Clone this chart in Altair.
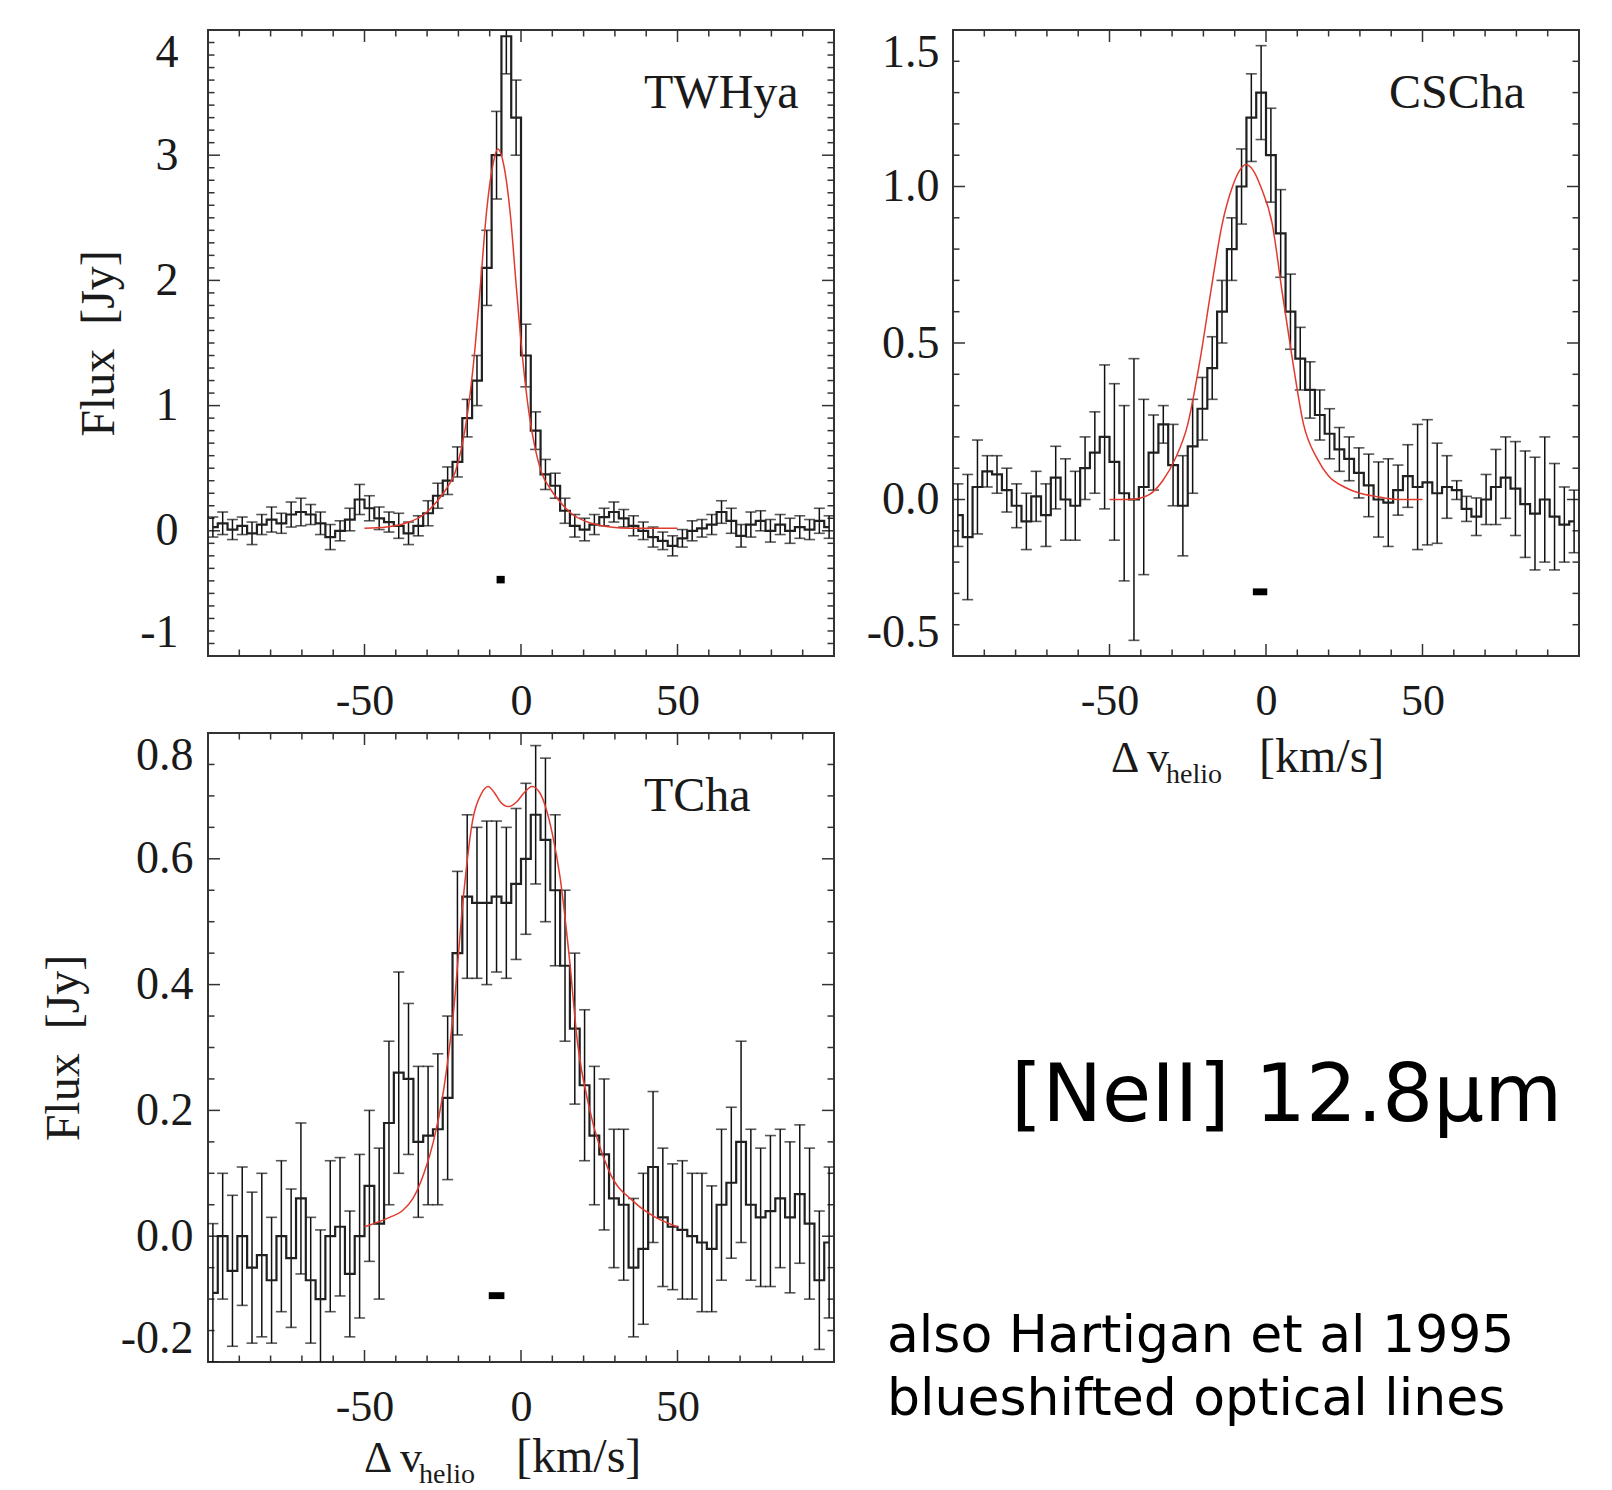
import altair as alt
import pandas as pd

W = 626
H = 626
H3 = 629
BIN = 3.125
VEL = [round(-100 + BIN * (i + 0.5), 4) for i in range(64)]

# ---------------- TW Hya ----------------
TW_FLUX = [0.03, 0.06, 0.01, 0.04, -0.02, 0.05, 0.09, 0.06, 0.13, 0.15,
           0.13, 0.06, -0.05, 0.0, 0.09, 0.25, 0.18, 0.10, 0.07, 0.04,
           -0.02, 0.04, 0.14, 0.28, 0.40, 0.55, 0.90, 1.20, 2.10, 3.00,
           3.95, 3.30, 1.40, 0.80, 0.45, 0.36, 0.16, 0.04, 0.01, 0.05,
           0.11, 0.15, 0.10, 0.04, 0.0, -0.05, -0.08, -0.12, -0.06, 0.0,
           0.02, 0.05, 0.15, 0.08, -0.04, 0.05, 0.08, 0.0, 0.05, 0.0,
           0.03, 0.01, 0.08, 0.03]
TW_ERR = [0.08, 0.09, 0.08, 0.07, 0.09, 0.08, 0.10, 0.08, 0.10, 0.11,
          0.08, 0.09, 0.10, 0.08, 0.09, 0.12, 0.10, 0.09, 0.08, 0.10,
          0.09, 0.08, 0.10, 0.10, 0.11, 0.12, 0.15, 0.20, 0.30, 0.35,
          0.30, 0.30, 0.25, 0.15, 0.12, 0.10, 0.10, 0.09, 0.09, 0.08,
          0.07, 0.08, 0.07, 0.08, 0.07, 0.08, 0.07, 0.08, 0.07, 0.08,
          0.07, 0.08, 0.09, 0.10, 0.09, 0.10, 0.08, 0.09, 0.08, 0.10,
          0.09, 0.08, 0.10, 0.09]
TW_MODEL_V = [-50, -43, -37, -31, -27, -24, -21, -19, -17, -15, -13, -11, -9, -7.4,
              -5.5, -3.5, -1.5, 0.5, 2.5, 4.5, 6.5, 9.5, 12.5, 16.5, 22.5, 28.5, 35, 50]
TW_MODEL_F = [0.02, 0.03, 0.06, 0.13, 0.23, 0.33, 0.47, 0.66, 0.95, 1.38, 1.95, 2.55, 2.92, 3.05,
              2.92, 2.55, 1.95, 1.38, 0.95, 0.66, 0.47, 0.33, 0.23, 0.13, 0.06, 0.03, 0.02, 0.02]
TW_RES = {"x1": [-7.8], "x2": [-5.2], "y1": [-0.42], "y2": [-0.36]}

# ---------------- CS Cha ----------------
CS_FLUX = [-0.05, -0.12, 0.04, 0.09, 0.08, 0.03, -0.02, -0.07, 0.01, -0.05,
           0.07, 0.0, -0.02, 0.10, 0.15, 0.20, 0.12, 0.02, 0.0, 0.04,
           0.15, 0.24, 0.11, -0.02, 0.17, 0.29, 0.42, 0.60, 0.80, 1.00,
           1.22, 1.30, 1.10, 0.85, 0.60, 0.45, 0.35, 0.27, 0.21, 0.16,
           0.13, 0.085, 0.045, 0.0, -0.01, 0.03, 0.075, 0.04, 0.055, 0.02,
           0.04, 0.03, -0.03, -0.055, 0.0, 0.04, 0.07, 0.035, -0.015, -0.045,
           0.0, -0.055, -0.08, -0.07]
CS_ERR = [0.10, 0.20, 0.15, 0.05, 0.06, 0.07, 0.07, 0.09, 0.08, 0.10,
          0.10, 0.13, 0.11, 0.10, 0.13, 0.23, 0.25, 0.28, 0.45, 0.28,
          0.12, 0.06, 0.13, 0.16, 0.15, 0.10, 0.10, 0.10, 0.10, 0.12,
          0.14, 0.15, 0.15, 0.14, 0.12, 0.10, 0.09, 0.08, 0.08, 0.07,
          0.07, 0.08, 0.10, 0.12, 0.14, 0.08, 0.10, 0.20, 0.20, 0.16,
          0.10, 0.03, 0.04, 0.06, 0.08, 0.12, 0.13, 0.15, 0.17, 0.18,
          0.20, 0.17, 0.12, 0.10]
CS_MODEL_V = [-50, -44, -40, -36, -33, -29, -25, -21, -17.7, -14, -10.7, -8.5, -6.4,
              -4, -1.7, 2, 5.2, 8.4, 12, 16.4, 20, 25, 30, 35, 42, 50]
CS_MODEL_F = [0.0, 0.0, 0.005, 0.025, 0.06, 0.13, 0.24, 0.45, 0.66, 0.88, 1.0, 1.05, 1.07,
              1.05, 1.0, 0.88, 0.66, 0.45, 0.24, 0.13, 0.075, 0.04, 0.02, 0.01, 0.0, 0.0]
CS_RES = {"x1": [-4.2], "x2": [0.4], "y1": [-0.306], "y2": [-0.284]}

# ---------------- T Cha ----------------
TC_FLUX = [-0.09, 0.0, -0.055, 0.0, -0.05, -0.03, -0.07, 0.0, -0.035, 0.06,
           -0.07, -0.10, 0.0, 0.015, -0.06, 0.0, 0.08, 0.02, 0.18, 0.26,
           0.25, 0.15, 0.16, 0.17, 0.22, 0.45, 0.54, 0.53, 0.53, 0.54,
           0.53, 0.56, 0.60, 0.67, 0.63, 0.55, 0.43, 0.33, 0.24, 0.16,
           0.13, 0.06, 0.05, -0.05, -0.02, 0.11, 0.03, 0.015, 0.01, 0.0,
           -0.01, -0.02, 0.05, 0.085, 0.15, 0.05, 0.03, 0.04, 0.06, 0.03,
           0.067, 0.02, -0.07, -0.01]
TC_ERR = [0.11, 0.10, 0.12, 0.11, 0.12, 0.13, 0.10, 0.12, 0.11, 0.12,
          0.10, 0.11, 0.12, 0.11, 0.10, 0.13, 0.12, 0.12, 0.13, 0.16,
          0.12, 0.12, 0.11, 0.12, 0.13, 0.13, 0.13, 0.12, 0.13, 0.12,
          0.12, 0.12, 0.12, 0.11, 0.13, 0.12, 0.12, 0.12, 0.12, 0.11,
          0.12, 0.11, 0.12, 0.11, 0.12, 0.12, 0.11, 0.10, 0.11, 0.10,
          0.11, 0.10, 0.12, 0.12, 0.16, 0.12, 0.11, 0.12, 0.11, 0.12,
          0.11, 0.12, 0.11, 0.12]
TC_MODEL_V = [-50, -42, -38, -34.5, -31, -28, -24.8, -21.5, -18.4, -15.5, -12.5, -10.5, -8.5, -6.5,
              -4, -1.5, 1, 3.5, 6, 8, 10, 12.5, 15.5, 18, 22, 28, 36, 43, 50]
TC_MODEL_F = [0.015, 0.03, 0.04, 0.06, 0.1, 0.15, 0.23, 0.36, 0.54, 0.66, 0.705, 0.715, 0.705, 0.69,
              0.683, 0.69, 0.705, 0.715, 0.705, 0.68, 0.64, 0.57, 0.44, 0.31, 0.2, 0.105, 0.055, 0.03, 0.015]
TC_RES = {"x1": [-10.3], "x2": [-5.3], "y1": [-0.1], "y2": [-0.089]}

# ---------------- axes / ticks ----------------
X_LABELS = [-50, 0, 50]
X_MAJOR = [-50, 0, 50]
X_MINOR = [-90, -80, -70, -60, -40, -30, -20, -10, 10, 20, 30, 40, 60, 70, 80, 90]

TW_YLAB = [-1, 0, 1, 2, 3, 4]
TW_YMAJ = [0, 1, 2, 3]
TW_YMIN = [round(-1 + 0.1 * k, 2) for k in range(1, 50) if k % 10 != 0]

CS_YLAB = [-0.5, 0.0, 0.5, 1.0, 1.5]
CS_YMAJ = [0.0, 0.5, 1.0]
CS_YMIN = [round(-0.5 + 0.1 * k, 2) for k in range(1, 20) if k % 5 != 0]

TC_YLAB = [-0.2, 0.0, 0.2, 0.4, 0.6, 0.8]
TC_YMAJ = [0.0, 0.2, 0.4, 0.6]
TC_YMIN = [round(-0.2 + 0.05 * k, 3) for k in range(1, 20) if k % 4 != 0]

SERIF = "Liberation Serif"
INK = "#1a1a1a"
MINUS = "\u2212"
MAJ_LEN = 12
MIN_LEN = 6.5


def panel(name, flux, err, mv, mf, res, ydom, ylab, ymaj, ymin, yfmt, h,
          lab_pad, title_pad, xtitle_pos):
    df = pd.DataFrame({"v": VEL, "f": flux, "e": err})
    df["lo"] = df["f"] - df["e"]
    df["hi"] = df["f"] + df["e"]
    mdf = pd.DataFrame({"v": mv, "f": mf})
    rdf = pd.DataFrame(res)

    xs = alt.Scale(domain=[-100, 100], nice=False, zero=False)
    ys = alt.Scale(domain=ydom, nice=False, zero=False)
    xaxis = alt.Axis(values=X_LABELS, ticks=False, tickSize=0, domain=False, grid=False,
                     labelPadding=23, labelFont=SERIF, labelFontSize=44, labelColor=INK,
                     labelExpr=f"replace(format(datum.value, 'd'), '{MINUS}', '-')", title=None)
    yargs = dict(values=ylab, ticks=False, tickSize=0, domain=False, grid=False,
                 labelPadding=lab_pad, labelFont=SERIF, labelFontSize=46, labelColor=INK,
                 labelFlush=True,
                 labelExpr=f"replace(format(datum.value, '{yfmt}'), '{MINUS}', '-')")
    if title_pad is not None:
        yargs.update(title="Flux\u00a0\u00a0[Jy]", titleFont=SERIF, titleFontSize=48,
                     titleFontWeight="normal", titleColor=INK, titlePadding=title_pad)
    else:
        yargs.update(title=None)
    yaxis = alt.Axis(**yargs)

    X = lambda fld: alt.X(f"{fld}:Q", scale=xs, axis=xaxis)
    Y = lambda fld: alt.Y(f"{fld}:Q", scale=ys, axis=yaxis)

    layers = []
    # x ticks (inward, top and bottom)
    for vals, ln in ((X_MAJOR, MAJ_LEN), (X_MINOR, MIN_LEN)):
        tdf = pd.DataFrame({"v": vals})
        base = alt.Chart(tdf).mark_rule(color="#333", strokeWidth=1.5)
        layers.append(base.encode(x=X("v"), y=alt.value(0), y2=alt.value(ln)))
        layers.append(base.encode(x=X("v"), y=alt.value(h), y2=alt.value(h - ln)))
    # y ticks (inward, left and right)
    for vals, ln in ((ymaj, MAJ_LEN), (ymin, MIN_LEN)):
        tdf = pd.DataFrame({"f": vals})
        base = alt.Chart(tdf).mark_rule(color="#333", strokeWidth=1.5)
        layers.append(base.encode(y=Y("f"), x=alt.value(0), x2=alt.value(ln)))
        layers.append(base.encode(y=Y("f"), x=alt.value(W), x2=alt.value(W - ln)))

    # error bars
    layers.append(alt.Chart(df).mark_rule(color="#111", strokeWidth=1.5, clip=True).encode(
        x=X("v"), y=Y("lo"), y2="hi"))
    for fld in ("lo", "hi"):
        layers.append(alt.Chart(df).mark_tick(color="#111", orient="horizontal", size=11,
                                              thickness=1.6, clip=True).encode(x=X("v"), y=Y(fld)))
    # histogram
    layers.append(alt.Chart(df).mark_line(interpolate="step", color="#202020", strokeWidth=2.2,
                                          clip=True).encode(x=X("v"), y=Y("f")))
    # model fit
    layers.append(alt.Chart(mdf).mark_line(color="#e23a2e", strokeWidth=1.5, interpolate="monotone",
                                           clip=True).encode(x=X("v"), y=Y("f")))
    # resolution element
    layers.append(alt.Chart(rdf).mark_rect(color="black").encode(
        x=X("x1"), x2="x2", y=Y("y1"), y2="y2"))

    one = pd.DataFrame({"k": [0]})

    def txt(s, size, x, y):
        return alt.Chart(one).mark_text(text=s, font=SERIF, fontSize=size, align="left",
                                        baseline="alphabetic", color=INK).encode(
            x=alt.value(x), y=alt.value(y))

    layers.append(txt(name, 48, 436, 78))
    if xtitle_pos is not None:
        xd, xv, xh, xk, yb = xtitle_pos
        layers.append(txt("\u0394", 44, xd, h + yb))
        layers.append(txt("v", 44, xv, h + yb))
        layers.append(txt("helio", 28, xh, h + yb + 11))
        layers.append(txt("[km/s]", 48, xk, h + yb))

    return alt.layer(*layers).properties(
        width=W, height=h, view=alt.ViewBackground(stroke="#333", strokeWidth=2))


p1 = panel("TWHya", TW_FLUX, TW_ERR, TW_MODEL_V, TW_MODEL_F, TW_RES, [-1, 4],
           TW_YLAB, TW_YMAJ, TW_YMIN, "d", H, 30, 16, None)
p2 = panel("CSCha", CS_FLUX, CS_ERR, CS_MODEL_V, CS_MODEL_F, CS_RES, [-0.5, 1.5],
           CS_YLAB, CS_YMAJ, CS_YMIN, ".1f", H, 14, None, (158, 194, 213, 306, 116))
p3 = panel("TCha", TC_FLUX, TC_ERR, TC_MODEL_V, TC_MODEL_F, TC_RES, [-0.2, 0.8],
           TC_YLAB, TC_YMAJ, TC_YMIN, ".1f", H3, 15, 32, (156, 192, 211, 308, 110))

one = pd.DataFrame({"k": [0]})
t1 = alt.Chart(one).mark_text(text="[NeII] 12.8\u03bcm", font="DejaVu Sans", fontSize=80,
                              align="left", baseline="alphabetic", color="black").encode(
    x=alt.value(58), y=alt.value(388))
t2 = alt.Chart(one).mark_text(text="also Hartigan et al 1995", font="DejaVu Sans", fontSize=52,
                              align="left", baseline="alphabetic", color="black").encode(
    x=alt.value(-66), y=alt.value(619))
t3 = alt.Chart(one).mark_text(text="blueshifted optical lines", font="DejaVu Sans", fontSize=52,
                              align="left", baseline="alphabetic", color="black").encode(
    x=alt.value(-66), y=alt.value(682))
p4 = alt.layer(t1, t2, t3).properties(width=W, height=H3,
                                       view=alt.ViewBackground(stroke="transparent"))

chart = alt.concat(p1, p2, p3, p4, columns=2, spacing={"row": 77, "column": 119},
                   bounds="flush").properties(
    padding={"left": 31, "top": 20, "right": 0, "bottom": 0}, background="white"
).configure_view(stroke="transparent")

chart.save("out.html", embed_options={"renderer": "svg", "actions": False})
